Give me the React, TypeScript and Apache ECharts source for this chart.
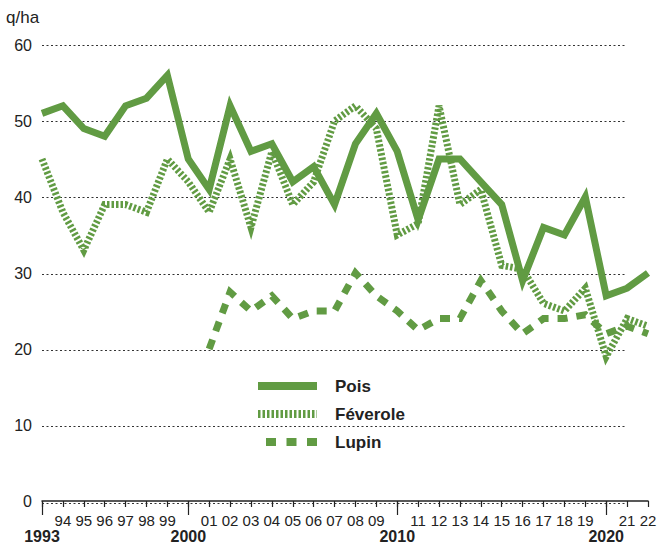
import React, { useEffect, useRef } from 'react';
import * as echarts from 'echarts';

const years = [1993, 1994, 1995, 1996, 1997, 1998, 1999, 2000, 2001, 2002, 2003, 2004, 2005, 2006, 2007, 2008, 2009, 2010, 2011, 2012, 2013, 2014, 2015, 2016, 2017, 2018, 2019, 2020, 2021, 2022];
const pois = [51, 52, 49, 48, 52, 53, 56, 45, 41, 52, 46, 47, 42, 44, 39, 47, 51, 46, 37, 45, 45, 42, 39, 29, 36, 35, 40, 27, 28, 30];
const feverole = [45, 38, 33, 39, 39, 38, 45, 42, 38, 45, 36, 46, 39, 42, 50, 52, 49, 35, 36.5, 52, 39, 41, 31, 30.5, 26, 25, 28, 19, 24, 23];
const lupin = [null, null, null, null, null, null, null, null, 20, 27.5, 25, 27, 24, 25, 25, 30, 27, 25, 22.5, 24, 24, 29, 25, 22, 24, 24, 24.5, 22, 23, 22];
const decadeTicks = [1993, 2000, 2010, 2020];
const seriesNames = ['Pois', 'Féverole', 'Lupin'];

const GREEN = '#619b43';
const INK = '#222222';
const FONT = 'Liberation Sans, Arial, sans-serif';
const NARROW = '"Liberation Sans Narrow", "Liberation Sans", Arial, sans-serif';

export default function App() {
  const ref = useRef<HTMLDivElement>(null);
  useEffect(() => {
    const chart = echarts.init(ref.current!, null, { renderer: 'svg' });
    const pair = (arr: (number | null)[]) => years.map((y, i) => [y, arr[i]]);
    const dashTypes: any[] = ['solid', [2.5, 2], [10, 9]];
    const lineSeries = (idx: number, arr: (number | null)[]) => ({
      type: 'line',
      name: seriesNames[idx],
      data: pair(arr),
      xAxisIndex: 0,
      yAxisIndex: 0,
      showSymbol: false,
      symbol: 'none',
      connectNulls: false,
      lineStyle: { color: GREEN, width: 7, type: dashTypes[idx], cap: 'butt', join: 'miter' },
      itemStyle: { color: GREEN },
    });
    const smallYears = years.filter((y) => decadeTicks.indexOf(y) < 0);
    const legendRows = [386, 414, 442];
    const legendStarts = [258, 258, 266];
    const legendGraphics: any[] = [];
    seriesNames.forEach((name, i) => {
      legendGraphics.push({
        type: 'line',
        shape: { x1: legendStarts[i], y1: legendRows[i], x2: 317, y2: legendRows[i] },
        style: { stroke: GREEN, lineWidth: 8, lineDash: i === 0 ? null : i === 1 ? [2.5, 2] : [10, 10.5], lineCap: 'butt' },
      });
      legendGraphics.push({
        type: 'text', x: 335, y: legendRows[i],
        style: { text: name, fontSize: 17, fontWeight: 'bold', fill: INK, fontFamily: FONT, verticalAlign: 'middle' },
      });
    });
    chart.setOption({
      animation: false,
      backgroundColor: '#ffffff',
      textStyle: { fontFamily: FONT },
      grid: [
        { left: 42, right: 13, top: 45, bottom: 41, containLabel: false },
        { left: 42, right: 34, top: 45, bottom: 41, containLabel: false },
      ],
      xAxis: [
        {
          type: 'value', gridIndex: 0, min: 1993, max: 2022, interval: 1,
          axisLine: { show: true, lineStyle: { color: INK, width: 1.5 } },
          axisTick: { show: true, length: 6, lineStyle: { color: INK, width: 1.2 } },
          splitLine: { show: false },
          axisLabel: {
            show: true, margin: 11, verticalAlign: 'top', customValues: smallYears,
            showMinLabel: true, showMaxLabel: true,
            formatter: (v: number) => String(v).slice(2),
            fontFamily: NARROW, fontSize: 15, color: INK, lineHeight: 16,
          },
        },
        {
          type: 'value', gridIndex: 0, min: 1993, max: 2022, position: 'bottom',
          axisLine: { show: false },
          axisTick: { show: true, length: 14, customValues: decadeTicks, lineStyle: { color: INK, width: 1.2 } },
          axisLabel: {
            show: true, margin: 27, verticalAlign: 'top', customValues: decadeTicks,
            showMinLabel: true, showMaxLabel: true,
            formatter: (v: number) => String(v),
            fontFamily: NARROW, fontSize: 16, fontWeight: 'bold', color: INK, lineHeight: 16,
          },
          splitLine: { show: false },
        },
        { type: 'value', gridIndex: 1, min: 0, max: 1, show: false },
      ],
      yAxis: [
        {
          type: 'value', gridIndex: 0, min: 0, max: 60, interval: 10,
          axisLine: { show: false }, axisTick: { show: false }, splitLine: { show: false },
          axisLabel: { show: true, margin: 10, fontSize: 16, color: INK, fontFamily: FONT },
        },
        {
          type: 'value', gridIndex: 1, min: 0, max: 60, interval: 10,
          axisLine: { show: false }, axisTick: { show: false }, axisLabel: { show: false },
          splitLine: { show: true, lineStyle: { color: '#333333', width: 1, type: [2, 2.5] } },
        },
      ],
      graphic: [
        { type: 'text', left: 6, top: 9, style: { text: 'q/ha', fontSize: 17, fill: INK, fontFamily: FONT } },
        ...legendGraphics,
      ],
      series: [
        lineSeries(0, pois),
        lineSeries(1, feverole),
        lineSeries(2, lupin),
      ],
    });
    return () => chart.dispose();
  }, []);
  return <div ref={ref} style={{ width: 661, height: 544, position: 'absolute', left: 0, top: 0 }} />;
}
